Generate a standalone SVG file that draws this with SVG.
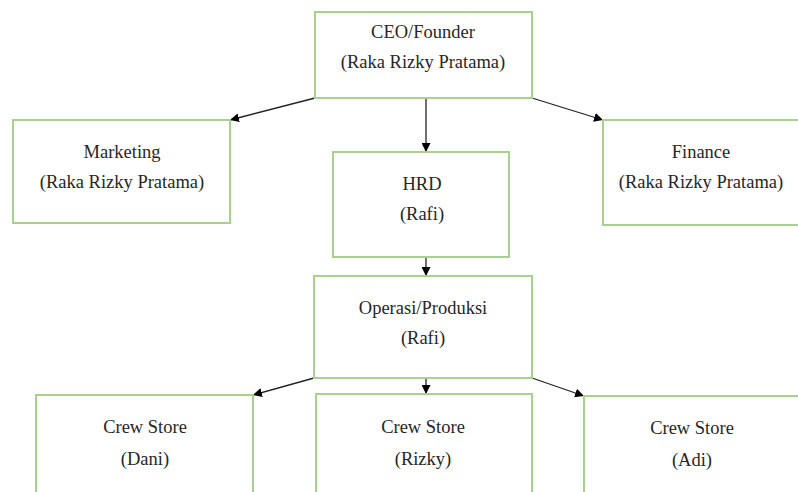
<svg xmlns="http://www.w3.org/2000/svg" width="798" height="492" viewBox="0 0 798 492">
<defs>
<marker id="ah" viewBox="0 0 10 10" refX="10" refY="5" markerWidth="9" markerHeight="9" markerUnits="userSpaceOnUse" orient="auto">
<path d="M0,0 L10,5 L0,10 z" fill="#000"/>
</marker>
<style>
.box{fill:#fff;stroke:#a9d18e;stroke-width:2}
.t{font-size:18.5px;fill:#262626;text-anchor:middle}
.c{stroke:#222;stroke-width:1.3;fill:none;marker-end:url(#ah)}
</style>
</defs>
<rect width="798" height="492" fill="#fff"/>
<g id="connectors">
<line class="c" x1="315" y1="98" x2="230" y2="120"/>
<line class="c" x1="426" y1="98" x2="426" y2="152"/>
<line class="c" x1="532" y1="98" x2="603" y2="120"/>
<line class="c" x1="426" y1="257" x2="426" y2="276"/>
<line class="c" x1="314" y1="378" x2="253" y2="395"/>
<line class="c" x1="426" y1="378" x2="426" y2="394"/>
<line class="c" x1="532" y1="378" x2="584" y2="396"/>
</g>
<g id="ceo">
<rect class="box" x="315" y="12" width="217" height="86"/>
<text class="t" font-family="Liberation Serif" x="423" y="38">CEO/Founder</text>
<text class="t" font-family="Liberation Serif" x="423" y="68">(Raka Rizky Pratama)</text>
</g>
<g id="marketing">
<rect class="box" x="13" y="120" width="217" height="103"/>
<text class="t" font-family="Liberation Serif" x="122" y="158">Marketing</text>
<text class="t" font-family="Liberation Serif" x="122" y="188">(Raka Rizky Pratama)</text>
</g>
<g id="finance">
<rect class="box" x="603" y="120" width="217" height="105"/>
<text class="t" font-family="Liberation Serif" x="701" y="158">Finance</text>
<text class="t" font-family="Liberation Serif" x="701" y="188">(Raka Rizky Pratama)</text>
</g>
<g id="hrd">
<rect class="box" x="333" y="152" width="176" height="105"/>
<text class="t" font-family="Liberation Serif" x="422" y="190">HRD</text>
<text class="t" font-family="Liberation Serif" x="422" y="220">(Rafi)</text>
</g>
<g id="operasi">
<rect class="box" x="314" y="276" width="218" height="102"/>
<text class="t" font-family="Liberation Serif" x="423" y="314">Operasi/Produksi</text>
<text class="t" font-family="Liberation Serif" x="423" y="344">(Rafi)</text>
</g>
<g id="crew-dani">
<rect class="box" x="36" y="395" width="217" height="110"/>
<text class="t" font-family="Liberation Serif" x="145" y="433">Crew Store</text>
<text class="t" font-family="Liberation Serif" x="145" y="465">(Dani)</text>
</g>
<g id="crew-rizky">
<rect class="box" x="316" y="394" width="216" height="110"/>
<text class="t" font-family="Liberation Serif" x="423" y="433">Crew Store</text>
<text class="t" font-family="Liberation Serif" x="423" y="465">(Rizky)</text>
</g>
<g id="crew-adi">
<rect class="box" x="584" y="396" width="230" height="110"/>
<text class="t" font-family="Liberation Serif" x="692" y="434">Crew Store</text>
<text class="t" font-family="Liberation Serif" x="692" y="466">(Adi)</text>
</g>
</svg>
